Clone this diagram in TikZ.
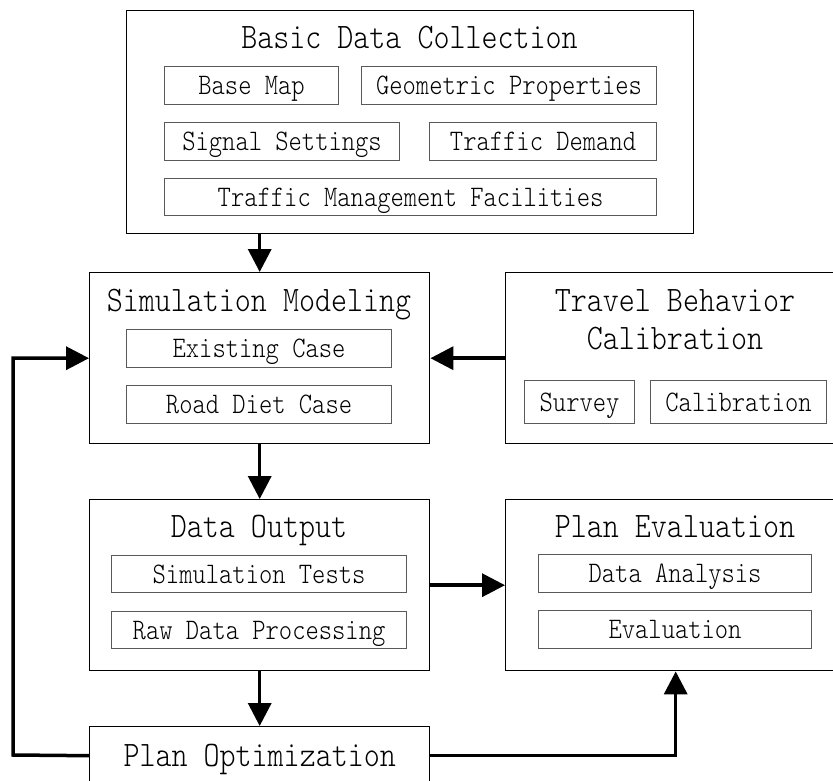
\documentclass[tikz,border=0pt]{standalone}
\usepackage{graphicx}
\usetikzlibrary{arrows.meta}

% narrow, tall typewriter glyphs
\newcommand{\tallglyphs}[1]{\scalebox{0.85}[1]{#1}}

\tikzset{
  outerbox/.style={draw=black, line width=1.4pt, inner sep=0pt, anchor=north west},
  subbox/.style={draw=black!65, line width=1.1pt, inner sep=0pt, anchor=north west,
    text height=18.2pt, text depth=0pt, font=\ttfamily\fontseries{l}\fontsize{29.8}{30}\selectfont},
  boxtitle/.style={anchor=base, inner sep=0pt, font=\ttfamily\fontseries{l}\fontsize{35.9}{36}\selectfont},
  conn/.style={line width=3.5pt},
  flow/.style={conn, -{Triangle[length=23pt,width=23pt]}}
}

\begin{document}
\begin{tikzpicture}[x=1pt,y=-1pt]
\useasboundingbox (0,0) rectangle (833,781);
\clip (0,0) rectangle (833,781);

% Basic data collection
\node[outerbox, minimum width=567pt, minimum height=223pt] (bdc) at (126,10) {};
\node[boxtitle] (bdcT) at (409.5,49) {\tallglyphs{Basic Data Collection}};
\node[subbox, minimum width=174pt, minimum height=38pt] (bmap) at (164,66) {\tallglyphs{Base Map}};
\node[subbox, minimum width=295pt, minimum height=38pt] (geom) at (361,66) {\tallglyphs{Geometric Properties}};
\node[subbox, minimum width=235pt, minimum height=38pt] (sig) at (164,122) {\tallglyphs{Signal Settings}};
\node[subbox, minimum width=227pt, minimum height=38pt] (dem) at (429,122) {\tallglyphs{Traffic Demand}};
\node[subbox, minimum width=492pt, minimum height=37pt] (tmf) at (164,178) {\tallglyphs{Traffic Management Facilities}};

% Simulation modeling
\node[outerbox, minimum width=340pt, minimum height=171pt] (sim) at (89,272) {};
\node[boxtitle] (simT) at (259,311) {\tallglyphs{Simulation Modeling}};
\node[subbox, minimum width=265pt, minimum height=38pt] (exist) at (126,329) {\tallglyphs{Existing Case}};
\node[subbox, minimum width=265pt, minimum height=38pt] (diet) at (126,385) {\tallglyphs{Road Diet Case}};

% Travel behavior calibration
\node[outerbox, minimum width=340pt, minimum height=171pt] (trav) at (505,272) {};
\node[boxtitle] (travT1) at (675,311) {\tallglyphs{Travel Behavior}};
\node[boxtitle] (travT2) at (675,349) {\tallglyphs{Calibration}};
\node[subbox, minimum width=110pt, minimum height=43pt] (surv) at (524,380) {\tallglyphs{Survey}};
\node[subbox, minimum width=176pt, minimum height=43pt] (calib) at (650,380) {\tallglyphs{Calibration}};

% Data output
\node[outerbox, minimum width=340pt, minimum height=171pt] (dout) at (89,499) {};
\node[boxtitle] (doutT) at (259,537) {\tallglyphs{Data Output}};
\node[subbox, minimum width=295pt, minimum height=37pt] (stest) at (111,555) {\tallglyphs{Simulation Tests}};
\node[subbox, minimum width=295pt, minimum height=37pt] (raw) at (111,611) {\tallglyphs{Raw Data Processing}};

% Plan evaluation
\node[outerbox, minimum width=340pt, minimum height=171pt] (peval) at (505,499) {};
\node[boxtitle] (pevalT) at (675,537) {\tallglyphs{Plan Evaluation}};
\node[subbox, minimum width=273pt, minimum height=38pt] (anal) at (538,554) {\tallglyphs{Data Analysis}};
\node[subbox, minimum width=273pt, minimum height=38pt] (evalu) at (538,610) {\tallglyphs{Evaluation}};

% Plan optimization
\node[outerbox, minimum width=340pt, minimum height=58pt, text height=21.9pt, text depth=0pt,
      font=\ttfamily\fontseries{l}\fontsize{35.9}{36}\selectfont] (popt) at (89,726) {\tallglyphs{Plan Optimization}};

% Connectors
\draw[flow] (sim.north |- bdc.south) -- (sim.north);
\draw[flow] (sim.south) -- (dout.north);
\draw[flow] (trav.west) -- (sim.east);
\draw[flow] (dout.east) -- (peval.west);
\draw[flow] (dout.south) -- (popt.north);
\coordinate (loopL) at (13,755);
\draw[flow] (popt.west) -- (loopL) |- (sim.west);
\draw[flow] (popt.east) -| (peval.south);
\end{tikzpicture}
\end{document}
